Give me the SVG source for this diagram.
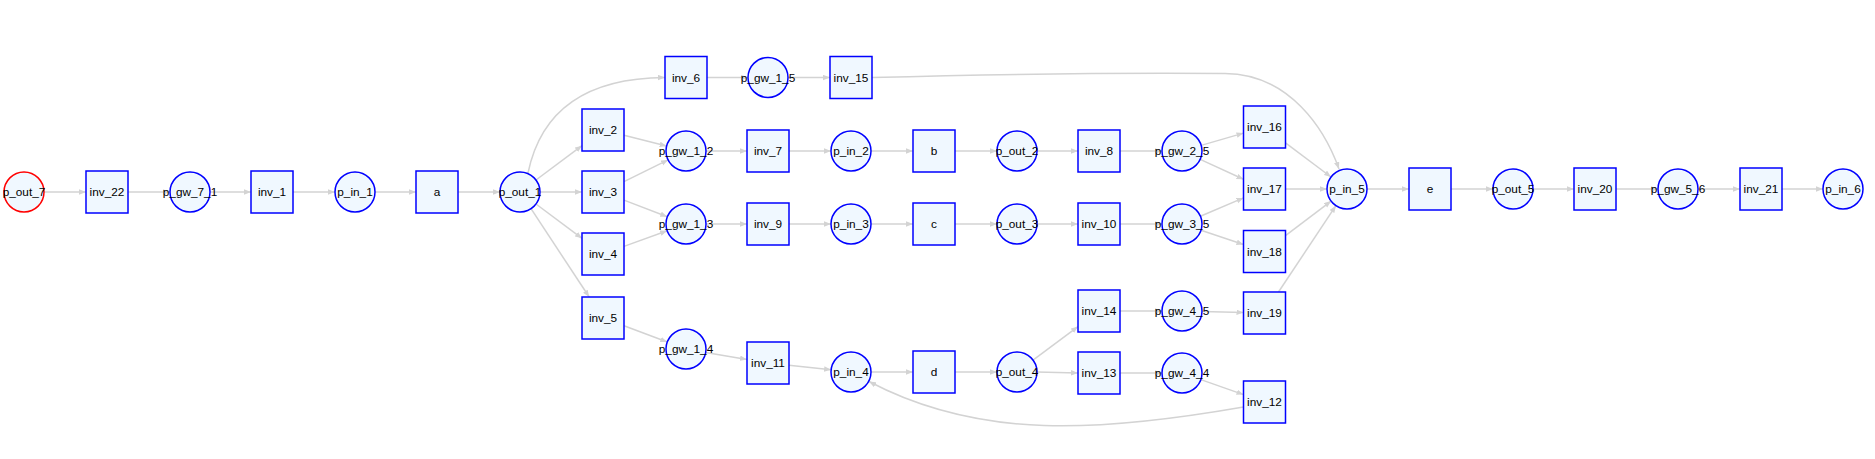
<svg xmlns="http://www.w3.org/2000/svg" width="1875" height="459" viewBox="0 0 1875 459">
<style>
.edge{fill:none;stroke:#d3d3d3;stroke-width:1.5;marker-end:url(#arr)}
.n rect,.n circle{fill:#f0f8ff;stroke:#0000ff;stroke-width:1.5}
.n text{font-family:"Liberation Sans",Arial,sans-serif;font-size:11.8px;fill:#000;text-anchor:middle}
#p_out_7 circle{stroke:#ff0000}
</style>
<defs>
<marker id="arr" markerUnits="userSpaceOnUse" markerWidth="8" markerHeight="6" refX="7" refY="2.75" orient="auto">
<path d="M0,0 L7,2.75 L0,5.5 z" fill="#d3d3d3"/>
</marker>
</defs>
<rect width="1875" height="459" fill="#ffffff"/>
<g id="edges">
<line class="edge" x1="44" y1="192" x2="86" y2="192"/>
<line class="edge" x1="128" y1="192" x2="170" y2="192"/>
<line class="edge" x1="210" y1="192" x2="251" y2="192"/>
<line class="edge" x1="293" y1="192" x2="335" y2="192"/>
<line class="edge" x1="375" y1="192" x2="416" y2="192"/>
<line class="edge" x1="458" y1="192" x2="500" y2="192"/>
<path class="edge" d="M528,173 C540,115 580,78 665,77.5"/>
<line class="edge" x1="536" y1="180" x2="582" y2="145.7"/>
<line class="edge" x1="540" y1="192" x2="582" y2="192"/>
<line class="edge" x1="536" y1="204" x2="582" y2="238.3"/>
<line class="edge" x1="531" y1="208.7" x2="589.2" y2="297"/>
<line class="edge" x1="707" y1="77.5" x2="748" y2="77.5"/>
<line class="edge" x1="788" y1="77.5" x2="830" y2="77.5"/>
<path class="edge" d="M872,77.5 C1000,74 1150,73 1225,73.5 C1290,74 1325,130 1339,169"/>
<line class="edge" x1="624" y1="135.3" x2="666.6" y2="146.1"/>
<line class="edge" x1="624" y1="181.6" x2="668.1" y2="159.9"/>
<line class="edge" x1="624" y1="200.1" x2="667.3" y2="216.8"/>
<line class="edge" x1="624" y1="246.4" x2="667.2" y2="230.8"/>
<line class="edge" x1="624" y1="325.8" x2="667.3" y2="342"/>
<line class="edge" x1="706" y1="151" x2="747" y2="151"/>
<line class="edge" x1="789" y1="151" x2="831" y2="151"/>
<line class="edge" x1="871" y1="151" x2="913" y2="151"/>
<line class="edge" x1="955" y1="151" x2="997" y2="151"/>
<line class="edge" x1="1037" y1="151" x2="1078" y2="151"/>
<line class="edge" x1="1120" y1="151" x2="1162" y2="151"/>
<line class="edge" x1="1201.2" y1="145.4" x2="1243.5" y2="133.1"/>
<line class="edge" x1="1200.2" y1="159.4" x2="1243.5" y2="179.3"/>
<line class="edge" x1="706" y1="224" x2="747" y2="224"/>
<line class="edge" x1="789" y1="224" x2="831" y2="224"/>
<line class="edge" x1="871" y1="224" x2="913" y2="224"/>
<line class="edge" x1="955" y1="224" x2="997" y2="224"/>
<line class="edge" x1="1037" y1="224" x2="1078" y2="224"/>
<line class="edge" x1="1120" y1="224" x2="1162" y2="224"/>
<line class="edge" x1="1200.4" y1="216.2" x2="1243.5" y2="197.9"/>
<line class="edge" x1="1201" y1="230.3" x2="1243.5" y2="244.5"/>
<line class="edge" x1="1285.5" y1="142.8" x2="1331" y2="177"/>
<line class="edge" x1="1285.5" y1="189" x2="1327" y2="189"/>
<line class="edge" x1="1285.5" y1="235.6" x2="1331.1" y2="201.1"/>
<line class="edge" x1="1278.5" y1="292" x2="1335.9" y2="205.7"/>
<line class="edge" x1="705.7" y1="352.4" x2="747" y2="359.4"/>
<line class="edge" x1="789" y1="365.3" x2="831.1" y2="369.8"/>
<line class="edge" x1="871" y1="372" x2="913" y2="372"/>
<line class="edge" x1="955" y1="372" x2="997" y2="372"/>
<line class="edge" x1="1033" y1="360.1" x2="1078" y2="326.6"/>
<line class="edge" x1="1037" y1="372" x2="1078" y2="373"/>
<line class="edge" x1="1120" y1="311" x2="1162" y2="311"/>
<line class="edge" x1="1202" y1="311.5" x2="1243.5" y2="312.5"/>
<line class="edge" x1="1120" y1="373" x2="1162" y2="373"/>
<line class="edge" x1="1200.9" y1="379.6" x2="1243.5" y2="394.6"/>
<path class="edge" d="M1243.5,407 C1100,432 980,440 869,381.5"/>
<line class="edge" x1="1367" y1="189" x2="1409" y2="189"/>
<line class="edge" x1="1451" y1="189" x2="1493" y2="189"/>
<line class="edge" x1="1533" y1="189" x2="1574" y2="189"/>
<line class="edge" x1="1616" y1="189" x2="1658" y2="189"/>
<line class="edge" x1="1698" y1="189" x2="1740" y2="189"/>
<line class="edge" x1="1782" y1="189" x2="1823" y2="189"/>
</g>
<g id="p_out_7" class="n"><circle cx="24" cy="192" r="20"/><text x="24" y="196">p_out_7</text></g>
<g id="inv_22" class="n"><rect x="86" y="171" width="42" height="42"/><text x="107" y="196">inv_22</text></g>
<g id="p_gw_7_1" class="n"><circle cx="190" cy="192" r="20"/><text x="190" y="196">p_gw_7_1</text></g>
<g id="inv_1" class="n"><rect x="251" y="171" width="42" height="42"/><text x="272" y="196">inv_1</text></g>
<g id="p_in_1" class="n"><circle cx="355" cy="192" r="20"/><text x="355" y="196">p_in_1</text></g>
<g id="a" class="n"><rect x="416" y="171" width="42" height="42"/><text x="437" y="196">a</text></g>
<g id="p_out_1" class="n"><circle cx="520" cy="192" r="20"/><text x="520" y="196">p_out_1</text></g>
<g id="inv_6" class="n"><rect x="665" y="56.5" width="42" height="42"/><text x="686" y="81.5">inv_6</text></g>
<g id="p_gw_1_5" class="n"><circle cx="768" cy="77.5" r="20"/><text x="768" y="81.5">p_gw_1_5</text></g>
<g id="inv_15" class="n"><rect x="830" y="56.5" width="42" height="42"/><text x="851" y="81.5">inv_15</text></g>
<g id="inv_2" class="n"><rect x="582" y="109" width="42" height="42"/><text x="603" y="134">inv_2</text></g>
<g id="inv_3" class="n"><rect x="582" y="171" width="42" height="42"/><text x="603" y="196">inv_3</text></g>
<g id="inv_4" class="n"><rect x="582" y="233" width="42" height="42"/><text x="603" y="258">inv_4</text></g>
<g id="inv_5" class="n"><rect x="582" y="297" width="42" height="42"/><text x="603" y="322">inv_5</text></g>
<g id="p_gw_1_2" class="n"><circle cx="686" cy="151" r="20"/><text x="686" y="155">p_gw_1_2</text></g>
<g id="p_gw_1_3" class="n"><circle cx="686" cy="224" r="20"/><text x="686" y="228">p_gw_1_3</text></g>
<g id="p_gw_1_4" class="n"><circle cx="686" cy="349" r="20"/><text x="686" y="353">p_gw_1_4</text></g>
<g id="inv_7" class="n"><rect x="747" y="130" width="42" height="42"/><text x="768" y="155">inv_7</text></g>
<g id="inv_9" class="n"><rect x="747" y="203" width="42" height="42"/><text x="768" y="228">inv_9</text></g>
<g id="inv_11" class="n"><rect x="747" y="342" width="42" height="42"/><text x="768" y="367">inv_11</text></g>
<g id="p_in_2" class="n"><circle cx="851" cy="151" r="20"/><text x="851" y="155">p_in_2</text></g>
<g id="p_in_3" class="n"><circle cx="851" cy="224" r="20"/><text x="851" y="228">p_in_3</text></g>
<g id="p_in_4" class="n"><circle cx="851" cy="372" r="20"/><text x="851" y="376">p_in_4</text></g>
<g id="b" class="n"><rect x="913" y="130" width="42" height="42"/><text x="934" y="155">b</text></g>
<g id="c" class="n"><rect x="913" y="203" width="42" height="42"/><text x="934" y="228">c</text></g>
<g id="d" class="n"><rect x="913" y="351" width="42" height="42"/><text x="934" y="376">d</text></g>
<g id="p_out_2" class="n"><circle cx="1017" cy="151" r="20"/><text x="1017" y="155">p_out_2</text></g>
<g id="p_out_3" class="n"><circle cx="1017" cy="224" r="20"/><text x="1017" y="228">p_out_3</text></g>
<g id="p_out_4" class="n"><circle cx="1017" cy="372" r="20"/><text x="1017" y="376">p_out_4</text></g>
<g id="inv_8" class="n"><rect x="1078" y="130" width="42" height="42"/><text x="1099" y="155">inv_8</text></g>
<g id="inv_10" class="n"><rect x="1078" y="203" width="42" height="42"/><text x="1099" y="228">inv_10</text></g>
<g id="inv_14" class="n"><rect x="1078" y="290" width="42" height="42"/><text x="1099" y="315">inv_14</text></g>
<g id="inv_13" class="n"><rect x="1078" y="352" width="42" height="42"/><text x="1099" y="377">inv_13</text></g>
<g id="p_gw_2_5" class="n"><circle cx="1182" cy="151" r="20"/><text x="1182" y="155">p_gw_2_5</text></g>
<g id="p_gw_3_5" class="n"><circle cx="1182" cy="224" r="20"/><text x="1182" y="228">p_gw_3_5</text></g>
<g id="p_gw_4_5" class="n"><circle cx="1182" cy="311" r="20"/><text x="1182" y="315">p_gw_4_5</text></g>
<g id="p_gw_4_4" class="n"><circle cx="1182" cy="373" r="20"/><text x="1182" y="377">p_gw_4_4</text></g>
<g id="inv_16" class="n"><rect x="1243.5" y="106" width="42" height="42"/><text x="1264.5" y="131">inv_16</text></g>
<g id="inv_17" class="n"><rect x="1243.5" y="168" width="42" height="42"/><text x="1264.5" y="193">inv_17</text></g>
<g id="inv_18" class="n"><rect x="1243.5" y="230.5" width="42" height="42"/><text x="1264.5" y="255.5">inv_18</text></g>
<g id="inv_19" class="n"><rect x="1243.5" y="292" width="42" height="42"/><text x="1264.5" y="317">inv_19</text></g>
<g id="inv_12" class="n"><rect x="1243.5" y="381" width="42" height="42"/><text x="1264.5" y="406">inv_12</text></g>
<g id="p_in_5" class="n"><circle cx="1347" cy="189" r="20"/><text x="1347" y="193">p_in_5</text></g>
<g id="e" class="n"><rect x="1409" y="168" width="42" height="42"/><text x="1430" y="193">e</text></g>
<g id="p_out_5" class="n"><circle cx="1513" cy="189" r="20"/><text x="1513" y="193">p_out_5</text></g>
<g id="inv_20" class="n"><rect x="1574" y="168" width="42" height="42"/><text x="1595" y="193">inv_20</text></g>
<g id="p_gw_5_6" class="n"><circle cx="1678" cy="189" r="20"/><text x="1678" y="193">p_gw_5_6</text></g>
<g id="inv_21" class="n"><rect x="1740" y="168" width="42" height="42"/><text x="1761" y="193">inv_21</text></g>
<g id="p_in_6" class="n"><circle cx="1843" cy="189" r="20"/><text x="1843" y="193">p_in_6</text></g>
</svg>
